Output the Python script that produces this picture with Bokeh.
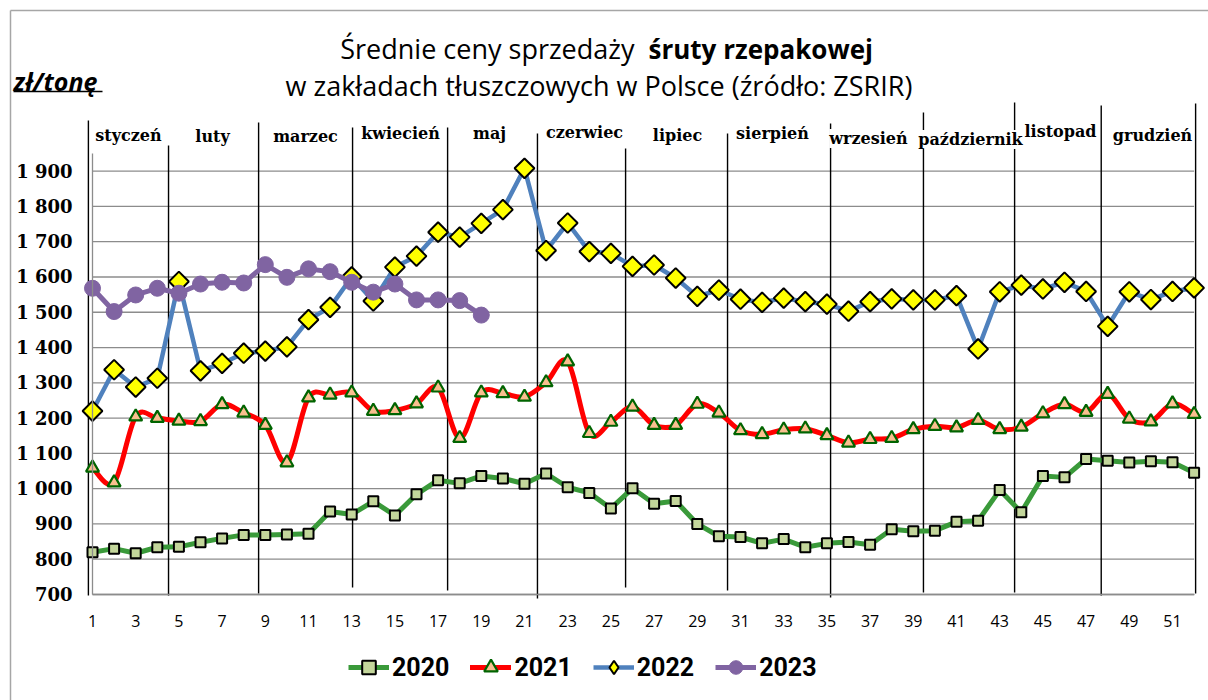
import numpy as np
from bokeh.plotting import figure
from bokeh.models import (Range1d, FixedTicker, Legend, LegendItem, LabelSet,
                          ColumnDataSource)
from bokeh.core.properties import value
from bokeh.embed import file_html
from bokeh.resources import INLINE

# ---------------- data ----------------
weeks = list(range(1, 53))
y2020 = [820, 830, 817, 834, 835, 848, 859, 869, 869, 870, 872, 935, 927, 964, 924,
         984, 1024, 1015, 1036, 1029, 1014, 1043, 1004, 988, 944, 1001, 957, 965, 900,
         865, 863, 845, 857,
         834, 845, 849, 841, 885, 879, 881, 906, 909, 996, 933, 1036, 1032, 1084, 1079,
         1074, 1078, 1075, 1045]
y2021 = [1059, 1017, 1204, 1200, 1192, 1191, 1239, 1215, 1180, 1074, 1258, 1266, 1272,
         1220, 1222,
         1241, 1286, 1143, 1272, 1270, 1260, 1301, 1360, 1157, 1189, 1232, 1180, 1180,
         1240, 1215, 1165, 1154, 1167,
         1170, 1151, 1130, 1140, 1143, 1168, 1177, 1173, 1194, 1168, 1175, 1213, 1239,
         1217, 1268, 1198, 1190, 1241, 1211]
y2022 = [1220, 1337, 1288, 1313, 1587, 1334, 1355, 1384, 1390, 1402, 1479, 1514, 1600,
         1532, 1628,
         1659, 1727, 1713, 1752, 1791, 1908, 1675, 1753, 1672, 1667, 1630, 1634, 1597,
         1545, 1563, 1537, 1528, 1540,
         1530, 1523, 1503, 1530, 1538, 1535, 1535, 1547, 1396, 1558, 1577, 1566, 1585,
         1559, 1460, 1558, 1536, 1559, 1569]
weeks2023 = list(range(1, 20))
y2023 = [1568, 1502, 1549, 1568, 1554, 1580, 1585, 1583, 1635, 1599, 1623, 1615, 1585,
         1557, 1580, 1535, 1535, 1533, 1492]

months = ["styczeń", "luty", "marzec", "kwiecień", "maj", "czerwiec", "lipiec",
          "sierpień", "wrzesień", "październik", "listopad", "grudzień"]
month_bounds = [0.81, 4.52, 8.69, 13.04, 17.44, 21.6, 25.68, 30.4, 35.17, 39.47,
                43.69, 47.7, 52.07]
yticks = list(range(700, 2000, 100))
xticks = list(range(1, 53, 2))
series_labels = ["2020", "2021", "2022", "2023"]
title_normal = "Średnie ceny  sprzedaży"
title_bold = "śruty rzepakowej"
title_line2 = "w zakładach tłuszczowych w Polsce  (źródło: ZSRIR)"
unit_label = "zł/tonę"

# ---------------- layout helpers (page pixel -> data) ----------------
PX_W = 21.6      # px per week
PX_V = 0.3528    # px per zł


def wx(px):
    return 1 + (px - 92) / PX_W


def vy(py):
    return 700 + (594 - py) / PX_V


W, H = 1208, 700
p = figure(width=W, height=H,
           x_range=Range1d(wx(0), wx(W)), y_range=Range1d(vy(H), vy(0)),
           min_border=0, output_backend="svg", toolbar_location=None,
           outline_line_color=None, background_fill_color="white",
           border_fill_color="white")

# axes drawn at fixed data locations (week 1 / 700 zł)
p.xaxis.fixed_location = 700
p.xaxis.ticker = FixedTicker(ticks=xticks)
p.xaxis.bounds = (1, 52)
p.xaxis.axis_line_color = "#8c8c8c"
p.xaxis.axis_line_width = 1.3
p.xaxis.major_tick_line_color = None
p.xaxis.minor_tick_line_color = None
p.xaxis.major_tick_out = 0
p.xaxis.major_tick_in = 0
p.xaxis.major_label_standoff = 20
p.xaxis.major_label_text_font = "Open Sans"
p.xaxis.major_label_text_font_size = "16px"
p.xaxis.major_label_text_color = "#000000"

p.yaxis.fixed_location = 1
p.yaxis.ticker = FixedTicker(ticks=yticks)
p.yaxis.bounds = (700, 1950)
p.yaxis.axis_line_color = "#8c8c8c"
p.yaxis.axis_line_width = 1.3
p.yaxis.major_tick_line_color = None
p.yaxis.minor_tick_line_color = None
p.yaxis.major_tick_out = 0
p.yaxis.major_tick_in = 0
p.yaxis.major_label_standoff = 20
p.yaxis.major_label_text_font = "DejaVu Serif"
p.yaxis.major_label_text_font_style = "bold"
p.yaxis.major_label_text_font_size = "18px"
p.yaxis.major_label_text_color = "#000000"
p.yaxis.major_label_overrides = {
    t: (f"{t // 1000} {t % 1000:03d}" if t >= 1000 else str(t)) for t in yticks}

p.xgrid.visible = False
p.ygrid.visible = False

# outer frame of the chart area (top and left edges)
p.segment(x0=[wx(10), wx(10)], y0=[vy(10), vy(10)], x1=[wx(W), wx(10)],
          y1=[vy(10), vy(H)], line_color="#a6a6a6", line_width=1.5)

# horizontal grid lines from the tick list
p.segment(x0=[1] * len(yticks), x1=[52] * len(yticks), y0=yticks, y1=yticks,
          line_color="#8c8c8c", line_width=1.3)

# month separators
sep_tops_px = [120, 145, 122, 127, 127, 133, 148, 133, 123, 112, 102, 105, 103]
sep_bot_px = [595, 595, 593, 587, 590, 598, 587, 590, 597, 592, 592, 595, 593]
p.segment(x0=month_bounds, x1=month_bounds,
          y0=[vy(v) for v in sep_bot_px], y1=[vy(v) for v in sep_tops_px],
          line_color="black", line_width=1.4)

# ---------------- series ----------------
l0 = p.line(weeks, y2020, line_color="#3a9a3a", line_width=5, line_join="round")
s0 = p.scatter(weeks, y2020, marker="square", size=10, fill_color="#c3d69b",
               line_color="black", line_width=2)

# 2021: Excel-like smoothed line through the data points (cubic Bezier segments)
xs = np.array(weeks, dtype=float)
ys = np.array(y2021, dtype=float)
prev_x = np.concatenate([[xs[0]], xs[:-2]])
prev_y = np.concatenate([[ys[0]], ys[:-2]])
next_x = np.concatenate([xs[2:], [xs[-1]]])
next_y = np.concatenate([ys[2:], [ys[-1]]])
cx0 = xs[:-1] + (xs[1:] - prev_x) / 6
cy0 = ys[:-1] + (ys[1:] - prev_y) / 6
cx1 = xs[1:] - (next_x - xs[:-1]) / 6
cy1 = ys[1:] - (next_y - ys[:-1]) / 6
l1 = p.bezier(x0=xs[:-1], y0=ys[:-1], x1=xs[1:], y1=ys[1:],
              cx0=cx0, cy0=cy0, cx1=cx1, cy1=cy1,
              line_color="#ff0000", line_width=5, line_cap="round")
s1 = p.scatter(weeks, y2021, marker="triangle", size=13, fill_color="#fabf8f",
               line_color="#006400", line_width=2.2)

l2 = p.line(weeks, y2022, line_color="#4f81bd", line_width=4.5, line_join="round")
s2 = p.scatter(weeks, y2022, marker="square", angle=np.pi / 4, size=14,
               fill_color="#ffff00", line_color="black", line_width=2)
# legend swatch for the rotated-square markers (no visible points)
s2_key = p.scatter([np.nan], [np.nan], marker="diamond", size=14,
                   fill_color="#ffff00", line_color="black", line_width=2)

l3 = p.line(weeks2023, y2023, line_color="#8064a2", line_width=5, line_join="round")
s3 = p.scatter(weeks2023, y2023, marker="circle", size=16, fill_color="#8064a2",
               line_color="#8064a2")

# ---------------- month labels ----------------
mx_px = [128, 212, 305, 400, 489, 584, 677, 772, 868, 970, 1060, 1152]
my_px = [135, 136, 136, 133, 133, 132, 135, 133, 138, 139, 131, 135]
msrc = ColumnDataSource(dict(x=[wx(v) for v in mx_px], y=[vy(v) for v in my_px],
                             t=months))
p.add_layout(LabelSet(x="x", y="y", text="t", source=msrc, text_align="center",
                      text_baseline="middle", text_font=value("DejaVu Serif"),
                      text_font_style="bold", text_font_size="16px",
                      text_color="#000000", background_fill_color="white"))

# ---------------- titles ----------------
p.text(x=[wx(641)], y=[vy(48)], text=[title_normal], text_align="right",
       text_baseline="alphabetic", text_font=value("Open Sans"),
       text_font_size="27px", text_color="#000000")
p.text(x=[wx(648)], y=[vy(48)], text=[title_bold], text_align="left",
       text_baseline="alphabetic", text_font=value("Open Sans"),
       text_font_style="bold", text_font_size="26px", text_color="#000000")
p.text(x=[wx(602)], y=[vy(85)], text=[title_line2], text_align="center",
       text_baseline="alphabetic", text_font=value("Open Sans"),
       text_font_size="27px", text_color="#000000")
p.text(x=[wx(13)], y=[vy(80)], text=[unit_label], text_align="left",
       text_baseline="alphabetic", text_font=value("Open Sans"),
       text_font_style="bold italic", text_font_size="25px", text_color="#000000")
p.segment(x0=[wx(13)], y0=[vy(91)], x1=[wx(102)], y1=[vy(91)],
          line_color="black", line_width=1.6)

# ---------------- legend ----------------
legend = Legend(items=[LegendItem(label=series_labels[0], renderers=[l0, s0]),
                       LegendItem(label=series_labels[1], renderers=[l1, s1]),
                       LegendItem(label=series_labels[2], renderers=[l2, s2_key]),
                       LegendItem(label=series_labels[3], renderers=[l3, s3])],
                orientation="horizontal", location=(348, 16),
                glyph_width=41, glyph_height=34, label_height=34, label_standoff=3,
                spacing=21, padding=0, margin=0, border_line_color=None,
                background_fill_alpha=0,
                label_text_font="Roboto", label_text_font_style="bold",
                label_text_font_size="25px", label_text_color="#000000")
p.add_layout(legend)

open("out.html", "w").write(file_html(p, INLINE))
